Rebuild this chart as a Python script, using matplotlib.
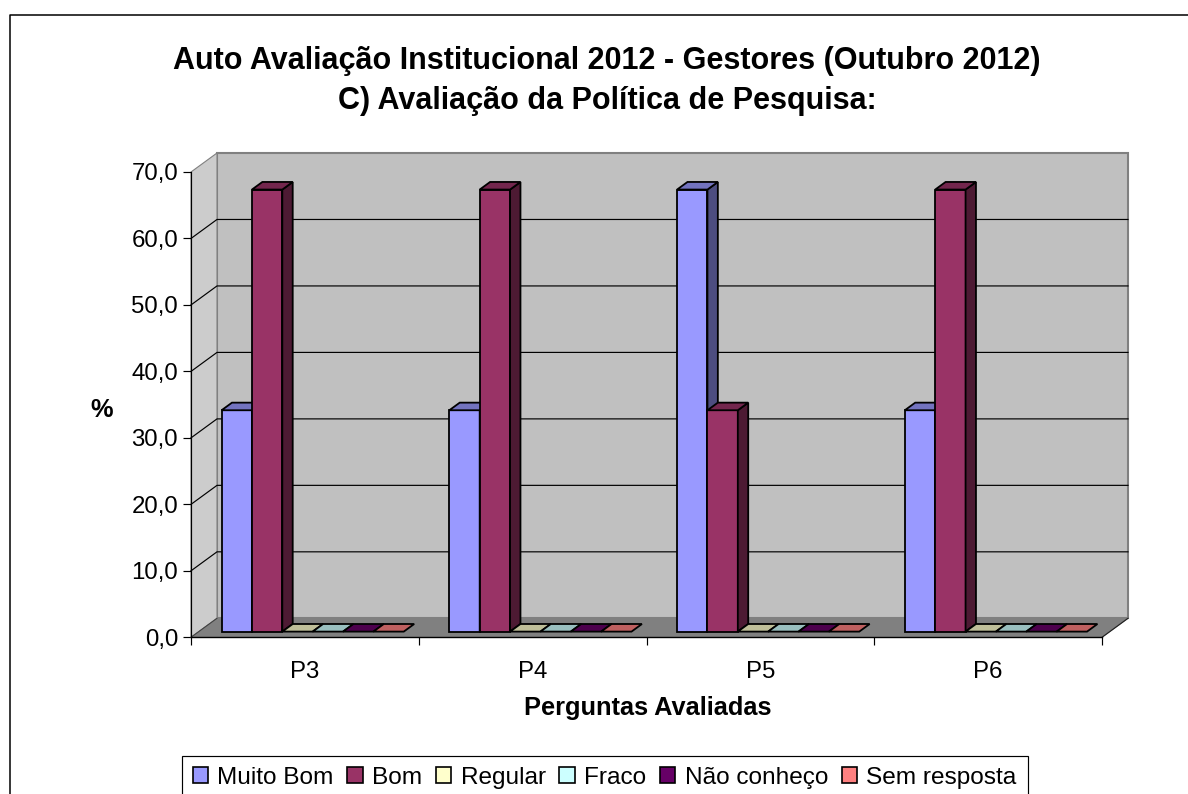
import matplotlib
matplotlib.use("Agg")
import matplotlib.pyplot as plt
from matplotlib.patches import Polygon, Patch
from matplotlib.lines import Line2D
from matplotlib.colors import to_rgb

plt.rcParams['font.family'] = ['Liberation Sans', 'DejaVu Sans']

title = "Auto Avaliação Institucional 2012 - Gestores (Outubro 2012)\nC) Avaliação da Política de Pesquisa:"
categories = ["P3", "P4", "P5", "P6"]
series_names = ["Muito Bom", "Bom", "Regular", "Fraco", "Não conheço", "Sem resposta"]
muito_bom = [33.3, 33.3, 66.5, 33.3]
bom = [66.5, 66.5, 33.3, 66.5]
regular = [0.0, 0.0, 0.0, 0.0]
fraco = [0.0, 0.0, 0.0, 0.0]
nao_conheco = [0.0, 0.0, 0.0, 0.0]
sem_resposta = [0.0, 0.0, 0.0, 0.0]
series_values = [muito_bom, bom, regular, fraco, nao_conheco, sem_resposta]
colors = ["#9999FF", "#993366", "#FFFFCC", "#CCFFFF", "#660066", "#FF8080"]
y_ticks = [0, 10, 20, 30, 40, 50, 60, 70]
y_labels = ["0,0", "10,0", "20,0", "30,0", "40,0", "50,0", "60,0", "70,0"]

W, H = 1188, 794
fig = plt.figure(figsize=(W / 100, H / 100), dpi=100, facecolor="white")


def fx(px):
    return px / W


def fy(py):
    return 1 - py / H


# chart-area border: only the left and top sides fall inside the picture
fig.add_artist(Line2D([fx(9.5), fx(9.5), fx(1195)],
                      [fy(800), fy(14.5), fy(14.5)],
                      color="black", lw=1.1, transform=fig.transFigure))

L, R, T, B = 191, 1102, 172, 637.3
ax = fig.add_axes([fx(L), fy(B), (R - L) / W, (B - T) / H])
ax.set_xlim(0, len(categories))
ax.set_ylim(0, 70)
ax.patch.set_visible(False)
for s in ax.spines.values():
    s.set_visible(False)

# oblique depth of the 3-D box, one depth unit in data units
DX = 26 / ((R - L) / len(categories))
DY = 19 / ((B - T) / 70)


def P(x, y, d=0.0):
    return (x + d * DX, y + d * DY)


def poly(pts, fc, ec, lw, z):
    ax.add_patch(Polygon(pts, closed=True, facecolor=fc, edgecolor=ec, lw=lw,
                         zorder=z, clip_on=False, joinstyle="miter"))


n = len(categories)
ymax = y_ticks[-1]
poly([P(0, 0, 1), P(n, 0, 1), P(n, ymax, 1), P(0, ymax, 1)], "#C0C0C0", "#808080", 1.5, 1)
poly([P(0, 0), P(0, 0, 1), P(0, ymax, 1), P(0, ymax)], "#CCCCCC", "#808080", 0.8, 1)
poly([P(0, 0), P(n, 0), P(n, 0, 1), P(0, 0, 1)], "#808080", "#808080", 0.6, 1.5)

for v in y_ticks[1:-1]:
    ax.plot(*zip(P(0, v), P(0, v, 1), P(n, v, 1)), color="black", lw=0.85, zorder=2, clip_on=False)
ax.plot(*zip(P(0, 0), P(0, 0, 1)), color="#404040", lw=0.75, zorder=2, clip_on=False)
ax.plot(*zip(P(n, 0), P(n, 0, 1)), color="#202020", lw=0.85, zorder=2, clip_on=False)

ax.plot([0, 0], [0, ymax], color="black", lw=0.85, zorder=2.5, clip_on=False)
ax.plot([0, n], [0, 0], color="black", lw=1.0, zorder=2.5, clip_on=False)


def shade(c, f):
    return tuple(v * f for v in to_rgb(c))


# bars: gap width 150 % both across and in depth
bar_w = 1 / 7.5
d0, d1 = 0.3, 0.7
z = 3.0
for i in range(n):
    for j, vals in enumerate(series_values):
        v = vals[i]
        c = colors[j]
        x0 = i + 0.75 * bar_w + j * bar_w
        x1 = x0 + bar_w
        if v > 0:
            poly([P(x0, 0, d0), P(x1, 0, d0), P(x1, v, d0), P(x0, v, d0)], c, "black", 1.3, z)
            poly([P(x1, 0, d0), P(x1, 0, d1), P(x1, v, d1), P(x1, v, d0)], shade(c, 0.5), "black", 1.3, z)
        poly([P(x0, v, d0), P(x1, v, d0), P(x1, v, d1), P(x0, v, d1)], shade(c, 0.75), "black", 1.3, z)
        z += 0.01

ax.set_yticks(y_ticks)
ax.set_yticklabels(y_labels, fontsize=17.3)
ax.set_xticks(range(n + 1))
ax.set_xticklabels([""] * (n + 1))
ax.set_xticks([i + 0.5 for i in range(n)], minor=True)
ax.set_xticklabels(categories, minor=True, fontsize=17.3)
ax.tick_params(axis="y", length=5.8, width=0.85, pad=3.4)
ax.tick_params(axis="x", which="major", length=5.8, width=0.85)
ax.tick_params(axis="x", which="minor", length=0, pad=17)

fig.text(fx(607), fy(81), title, ha="center", va="center", fontsize=22, fontweight="bold",
         linespacing=1.45)
fig.text(fx(102), fy(410), "%", ha="center", va="center", fontsize=18.3, fontweight="bold")
fig.text(fx(648), fy(708), "Perguntas Avaliadas", ha="center", va="center", fontsize=18.3,
         fontweight="bold")

handles = [Patch(facecolor=c, edgecolor="black", lw=1.2, label=s)
           for c, s in zip(colors, series_names)]
leg = fig.legend(handles=handles, loc="upper left", bbox_to_anchor=(fx(181.5), fy(756)),
                 bbox_transform=fig.transFigure, ncol=6, fontsize=17.6, frameon=True,
                 fancybox=False, framealpha=1, edgecolor="black", borderpad=0.45,
                 borderaxespad=0, handlelength=0.64, handleheight=0.64, handletextpad=0.38,
                 columnspacing=0.55)
leg.get_frame().set_linewidth(0.85)

fig.savefig("out.png", dpi=100, facecolor="white")
